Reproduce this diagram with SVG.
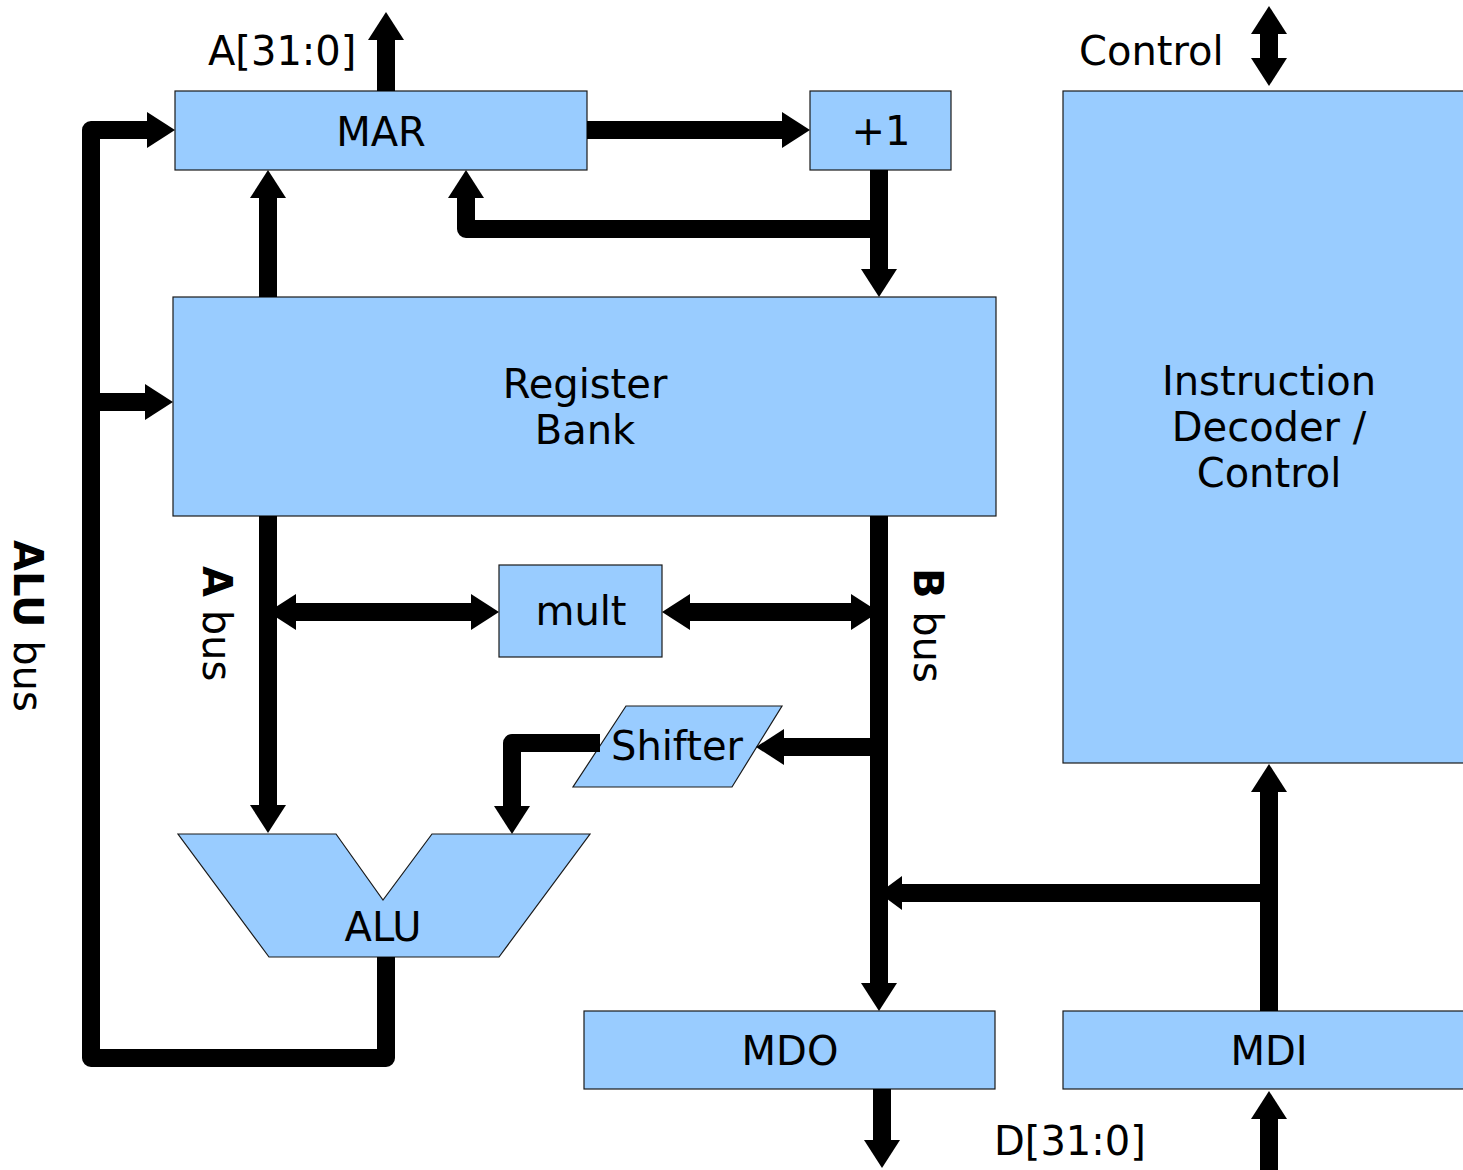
<svg xmlns="http://www.w3.org/2000/svg" width="1463" height="1170" viewBox="0 0 1463 1170">
  <defs>
    <style>
      .box { fill: #99ccff; stroke: #1a1a1a; stroke-width: 1.2; }
      .lbl { font-family: "DejaVu Sans", "Liberation Sans", sans-serif; font-size: 40px; fill: #000; }
      .mid { text-anchor: middle; }
      .bold { font-weight: bold; }
      .wire { fill: none; stroke: #000; stroke-width: 18; stroke-linejoin: round; stroke-linecap: butt; }
      .arr { marker-end: url(#ah); }
      .arr2 { marker-start: url(#ah); marker-end: url(#ah); }
    </style>
    <marker id="ah" markerUnits="userSpaceOnUse" orient="auto-start-reverse" markerWidth="40" markerHeight="40" refX="0" refY="0" style="overflow:visible">
      <path d="M0,-18 L28,0 L0,18 z" fill="#000"/>
    </marker>
    <marker id="ahs" markerUnits="userSpaceOnUse" orient="auto" markerWidth="30" markerHeight="40" refX="0" refY="0" style="overflow:visible">
      <path d="M0,-17 L23,0 L0,17 z" fill="#000"/>
    </marker>
  </defs>

  <rect width="1463" height="1170" fill="#ffffff"/>

  <g id="MAR">
    <rect class="box" x="175" y="91" width="412" height="79"/>
    <text class="lbl mid" x="381" y="146">MAR</text>
  </g>
  <g id="inc">
    <rect class="box" x="810" y="91" width="141" height="79"/>
    <text class="lbl mid" x="881" y="145">+1</text>
  </g>
  <g id="decoder">
    <rect class="box" x="1063" y="91" width="410" height="672"/>
    <text class="lbl mid" x="1269" y="395">Instruction</text>
    <text class="lbl mid" x="1269" y="441">Decoder /</text>
    <text class="lbl mid" x="1269" y="487">Control</text>
  </g>
  <g id="regbank">
    <rect class="box" x="173" y="297" width="823" height="219"/>
    <text class="lbl mid" x="585" y="398">Register</text>
    <text class="lbl mid" x="585" y="444">Bank</text>
  </g>
  <g id="mult">
    <rect class="box" x="499" y="565" width="163" height="92"/>
    <text class="lbl mid" x="581" y="625">mult</text>
  </g>
  <g id="shifter">
    <polygon class="box" points="626,706 782,706 732,787 573,787"/>
    <text class="lbl mid" x="677" y="760">Shifter</text>
  </g>
  <g id="alu">
    <polygon class="box" points="178,834 336,834 383,900 432,834 590,834 499,957 269,957"/>
    <text class="lbl mid" x="383" y="941">ALU</text>
  </g>
  <g id="MDO">
    <rect class="box" x="584" y="1011" width="411" height="78"/>
    <text class="lbl mid" x="790" y="1065">MDO</text>
  </g>
  <g id="MDI">
    <rect class="box" x="1063" y="1011" width="410" height="78"/>
    <text class="lbl mid" x="1269" y="1065">MDI</text>
  </g>

  <g id="connectors">
    <!-- address out -->
    <path class="wire arr" d="M386,91 V40"/>
    <!-- MAR to +1 -->
    <path class="wire arr" d="M587,130 H782"/>
    <!-- +1 to register bank -->
    <path class="wire arr" d="M879,170 V269"/>
    <!-- +1 back to MAR -->
    <path class="wire arr" d="M879,229 H466 V198"/>
    <!-- register bank to MAR -->
    <path class="wire arr" d="M268,297 V198"/>
    <!-- ALU bus -->
    <path class="wire arr" d="M386,957 V1058 H91 V130 H147"/>
    <path class="wire arr" d="M91,402 H145"/>
    <!-- A bus -->
    <path class="wire arr" d="M268,516 V805"/>
    <path class="wire arr2" d="M296,612 H471"/>
    <!-- B bus -->
    <path class="wire arr" d="M879,516 V983"/>
    <path class="wire arr2" d="M690,612 H851"/>
    <path class="wire arr" d="M879,747 H784"/>
    <!-- shifter to ALU -->
    <path class="wire arr" d="M600,743 H512 V806"/>
    <!-- MDI to decoder and B bus -->
    <path class="wire arr" d="M1269,1011 V792"/>
    <path class="wire" d="M1269,893 H902" marker-end="url(#ahs)"/>
    <!-- data in / out -->
    <path class="wire arr" d="M882,1089 V1140"/>
    <path class="wire arr" d="M1269,1170 V1119"/>
    <!-- control -->
    <path class="wire arr2" d="M1269,34 V58"/>

    <text class="lbl" x="208" y="65">A[31:0]</text>
    <text class="lbl" x="1079" y="65">Control</text>
    <text class="lbl" x="994" y="1155">D[31:0]</text>
    <text class="lbl" transform="translate(14,540) rotate(90)"><tspan class="bold">ALU</tspan> bus</text>
    <text class="lbl" transform="translate(203,566) rotate(90)"><tspan class="bold">A</tspan> bus</text>
    <text class="lbl" transform="translate(914,568) rotate(90)"><tspan class="bold">B</tspan> bus</text>
  </g>
</svg>
